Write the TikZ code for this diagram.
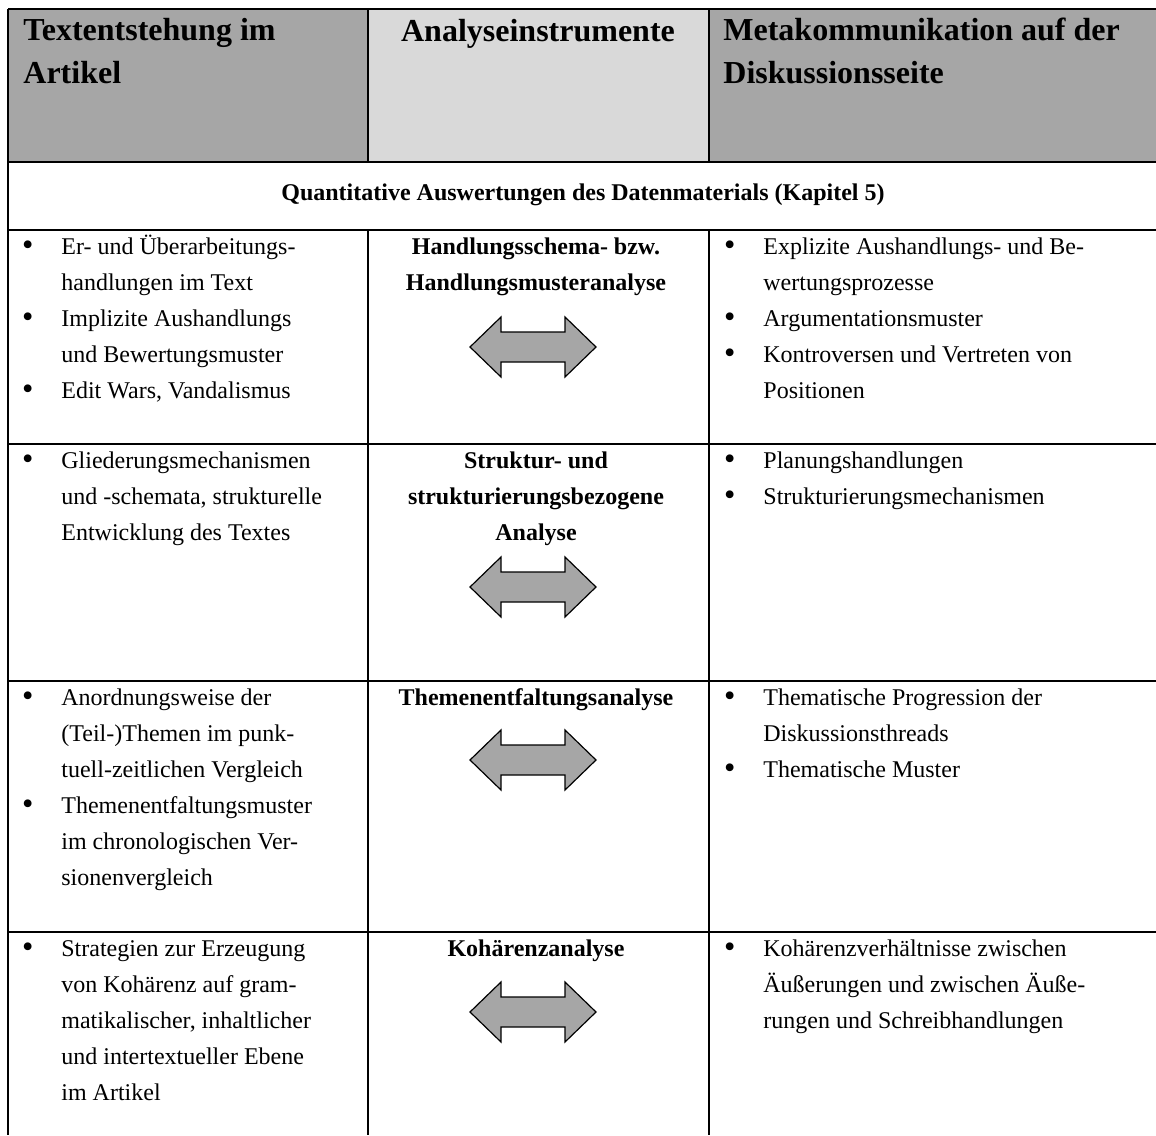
\documentclass[tikz,border=0pt]{standalone}
\usepackage{fontspec}
\setmainfont{Liberation Serif}
\definecolor{headdark}{HTML}{A6A6A6}
\definecolor{headlight}{HTML}{D9D9D9}
\definecolor{arrgray}{HTML}{A6A6A6}
\newcommand\bul{\llap{\raisebox{-0.06em}{\scalebox{1.35}{\textbullet}}\hspace{14pt}}}

\begin{document}
\begin{tikzpicture}[x=0.5pt,y=-0.5pt,
	rule/.style={line width=1pt},
	headtext/.style={font=\fontsize{16}{21}\selectfont\bfseries,inner sep=0pt,anchor=base west,align=left},
	midtext/.style={font=\fontsize{12}{18}\selectfont\bfseries,inner sep=0pt,anchor=base,align=center},
	celltext/.style={font=\fontsize{12}{18}\selectfont,inner sep=0pt,anchor=base west,align=left},
	dblarr/.style={draw=black,line width=0.6pt,fill=arrgray,line join=miter}]
	\useasboundingbox (0,0) rectangle (1156,1135);
	\fill[headdark]  (8,9) rectangle (368,162);
	\fill[headlight] (368,9) rectangle (709,162);
	\fill[headdark]  (709,9) rectangle (1156,162);

	\foreach \ry in {9,162,230,444,681,932}
		\draw[rule] (8,\ry) -- (1156,\ry);
	\draw[rule] (8,9) -- (8,1135);
	\foreach \rx in {368,709} {
		\draw[rule] (\rx,9) -- (\rx,162);
		\draw[rule] (\rx,230) -- (\rx,1135);
	}

	% anchors sit on the last line of each text
	\node[headtext] (h1) at (23,83) {Textentstehung im\\Artikel};
	\node[headtext,anchor=base] (h2) at (538,41) {Analyseinstrumente};
	\node[headtext] (h3) at (723,83) {Metakommunikation auf der\\Diskussionsseite};
	\node[midtext] (quant) at (583,200) {Quantitative Auswertungen des Datenmaterials (Kapitel 5)};

	\node[celltext] (c11) at (61,398) {\bul Er- und Überarbeitungs-\\handlungen im Text\\
		\bul Implizite Aushandlungs\\und Bewertungsmuster\\
		\bul Edit Wars, Vandalismus};
	\node[midtext] (m1) at (536,290) {Handlungsschema- bzw.\\Handlungsmusteranalyse};
	\node[celltext] (c13) at (763,398) {\bul Explizite Aushandlungs- und Be-\\wertungsprozesse\\
		\bul Argumentationsmuster\\
		\bul Kontroversen und Vertreten von\\Positionen};

	\node[celltext] (c21) at (61,540) {\bul Gliederungsmechanismen\\und -schemata, strukturelle\\Entwicklung des Textes};
	\node[midtext] (m2) at (536,540) {Struktur- und\\strukturierungsbezogene\\Analyse};
	\node[celltext] (c23) at (763,504) {\bul Planungshandlungen\\
		\bul Strukturierungsmechanismen};

	\node[celltext] (c31) at (61,885) {\bul Anordnungsweise der\\(Teil-)Themen im punk-\\tuell-zeitlichen Vergleich\\
		\bul Themenentfaltungsmuster\\im chronologischen Ver-\\sionenvergleich};
	\node[midtext] (m3) at (536,705) {Themenentfaltungsanalyse};
	\node[celltext] (c33) at (763,777) {\bul Thematische Progression der\\Diskussionsthreads\\
		\bul Thematische Muster};

	\node[celltext] (c41) at (61,1100) {\bul Strategien zur Erzeugung\\von Kohärenz auf gram-\\matikalischer, inhaltlicher\\und intertextueller Ebene\\im Artikel};
	\node[midtext] (m4) at (536,956) {Kohärenzanalyse};
	\node[celltext] (c43) at (763,1028) {\bul Kohärenzverhältnisse zwischen\\Äußerungen und zwischen Äuße-\\rungen und Schreibhandlungen};

	\foreach \ay in {347,587,760,1012}
		\draw[dblarr,shift={(533,\ay)}] (-63,0) -- (-32,-30) -- (-32,-15) -- (32,-15) -- (32,-30)
			-- (63,0) -- (32,30) -- (32,15) -- (-32,15) -- (-32,30) -- cycle;
\end{tikzpicture}
\end{document}
